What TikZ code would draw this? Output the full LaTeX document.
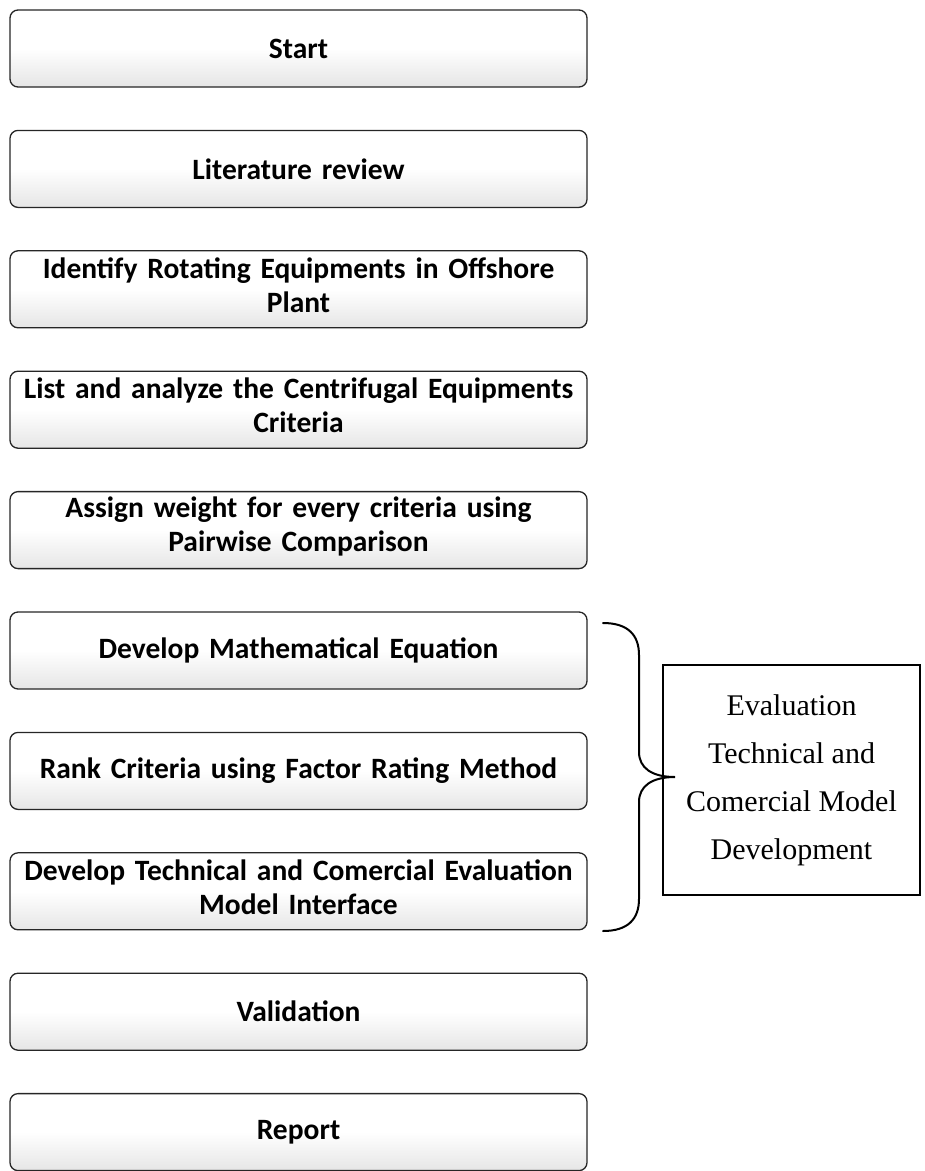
\documentclass[tikz,border=0pt]{standalone}
\usepackage{fontspec}
\setmainfont{Carlito}[WordSpace=0.8]
\newfontfamily\serifbox{Liberation Serif}
\pgfdeclareverticalshading{stepshade}{100bp}{color(0bp)=(black!22); color(25bp)=(black!10); color(50bp)=(white); color(100bp)=(white)}
\begin{document}
\begin{tikzpicture}[x=1pt,y=-1pt,
  stepbox/.style={draw=black!85, line width=1.3pt, rounded corners=8pt,
    minimum width=577pt, minimum height=77pt, shade, shading=stepshade,
    align=center, text width=572pt, inner sep=0pt,
    font=\fontsize{29.5}{34}\selectfont\bfseries},
  steptext/.style={align=center, text width=572pt, inner sep=0pt,
    font=\fontsize{29.5}{34}\selectfont\bfseries},
  groupbox/.style={draw=black, line width=1.3pt, fill=white,
    minimum width=257pt, minimum height=230pt, align=center, inner sep=0pt,
    font=\serifbox\fontsize{30}{48}\selectfont},
  bracestyle/.style={draw=black, line width=2pt, line cap=round}]
\useasboundingbox (0,0) rectangle (925,1171);
\node[stepbox] (s1) at (298.5,48.5) {Start};
\node[stepbox] (s2) at (298.5,168.9) {Literature review};
\node[stepbox] (s3) at (298.5,289.3) {};
\node[steptext] (t3) at ([yshift=4pt]s3.center) {Identify Rotating Equipments in Offshore\\Plant};
\node[stepbox] (s4) at (298.5,409.7) {};
\node[steptext] (t4) at ([yshift=4pt]s4.center) {List and analyze the Centrifugal Equipments\\Criteria};
\node[stepbox] (s5) at (298.5,530.1) {};
\node[steptext] (t5) at ([yshift=4pt]s5.center) {Assign weight for every criteria using\\Pairwise Comparison};
\node[stepbox] (s6) at (298.5,650.5) {Develop Mathematical Equation};
\node[stepbox] (s7) at (298.5,770.9) {Rank Criteria using Factor Rating Method};
\node[stepbox] (s8) at (298.5,891.3) {};
\node[steptext] (t8) at ([yshift=4pt]s8.center) {Develop Technical and Comercial Evaluation\\Model Interface};
\node[stepbox] (s9) at (298.5,1011.7) {Validation};
\node[stepbox] (s10) at (298.5,1132.1) {Report};
\node[groupbox] (g) at (791.5,780) {Evaluation\\Technical and\\Comercial Model\\Development};
\coordinate (btop) at (603,623);
\coordinate (btip) at (675,777);
\coordinate (bbot) at (603,931);
\draw[bracestyle] (btop) .. controls (628,623) and (639,635) .. (639,655)
  -- (639,752) .. controls (639,768) and (652,777) .. (btip)
  .. controls (652,777) and (639,786) .. (639,802)
  -- (639,899) .. controls (639,919) and (628,931) .. (bbot);
\end{tikzpicture}
\end{document}
